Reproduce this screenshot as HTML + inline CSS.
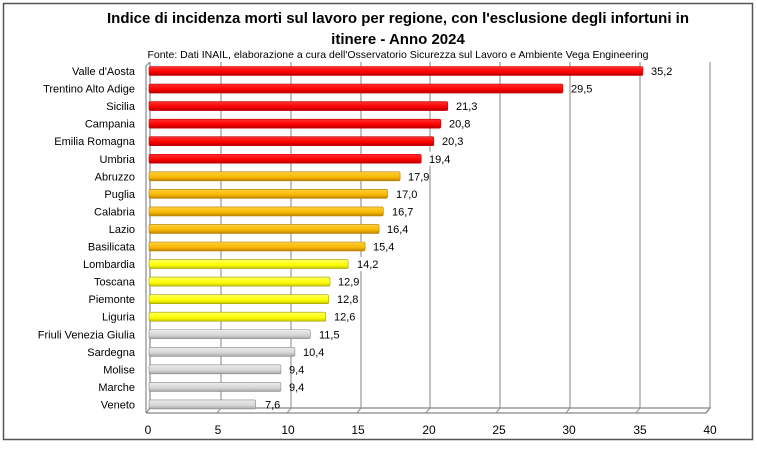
<!DOCTYPE html>
<html><head><meta charset="utf-8"><style>
body{margin:0;background:#fff;width:757px;height:444px;overflow:hidden;font-family:"Liberation Sans",sans-serif}
</style></head><body>
<svg width="757" height="444" xmlns="http://www.w3.org/2000/svg" font-family="Liberation Sans, sans-serif">
<defs>
<linearGradient id="r" x1="0" y1="0" x2="0" y2="1"><stop offset="0" stop-color="#ff3030"/><stop offset="0.6" stop-color="#ff0000"/><stop offset="1" stop-color="#b00000"/></linearGradient>
<linearGradient id="o" x1="0" y1="0" x2="0" y2="1"><stop offset="0" stop-color="#ffd040"/><stop offset="0.6" stop-color="#f8b800"/><stop offset="1" stop-color="#c08000"/></linearGradient>
<linearGradient id="y" x1="0" y1="0" x2="0" y2="1"><stop offset="0" stop-color="#ffff60"/><stop offset="0.6" stop-color="#ffff00"/><stop offset="1" stop-color="#c8c800"/></linearGradient>
<linearGradient id="g" x1="0" y1="0" x2="0" y2="1"><stop offset="0" stop-color="#ececec"/><stop offset="0.6" stop-color="#d6d6d6"/><stop offset="1" stop-color="#a8a8a8"/></linearGradient>
</defs>
<rect x="3.5" y="3.5" width="749" height="436" fill="#fff" stroke="#555" stroke-width="1.5"/>
<text x="398" y="23" text-anchor="middle" font-size="15" font-weight="bold">Indice di incidenza morti sul lavoro per regione, con l'esclusione degli infortuni in</text>
<text x="398" y="44" text-anchor="middle" font-size="15" font-weight="bold">itinere - Anno 2024</text>
<text x="398" y="58" text-anchor="middle" font-size="10.5">Fonte: Dati INAIL, elaborazione a cura dell'Osservatorio Sicurezza sul Lavoro e Ambiente Vega Engineering</text>
<g stroke="#999" stroke-width="1.2">
<line x1="221" y1="62" x2="221" y2="408"/><line x1="291" y1="62" x2="291" y2="408"/><line x1="361" y1="62" x2="361" y2="408"/><line x1="430" y1="62" x2="430" y2="408"/><line x1="500" y1="62" x2="500" y2="408"/><line x1="570" y1="62" x2="570" y2="408"/><line x1="640" y1="62" x2="640" y2="408"/><line x1="710" y1="62" x2="710" y2="408"/>
<line x1="221" y1="408" x2="217" y2="413"/><line x1="291" y1="408" x2="287" y2="413"/><line x1="361" y1="408" x2="357" y2="413"/><line x1="430" y1="408" x2="426" y2="413"/><line x1="500" y1="408" x2="496" y2="413"/><line x1="570" y1="408" x2="566" y2="413"/><line x1="640" y1="408" x2="636" y2="413"/><line x1="710" y1="408" x2="706" y2="413"/>
</g>
<g stroke="#888" stroke-width="1.2" fill="none">
<path d="M150 62 V408 L146 413"/>
<path d="M150 62 L146 66 V413"/>
<path d="M150 408 H710 L706 413 H146"/>
</g>
<g font-size="12" text-anchor="middle">
<text x="148" y="434">0</text><text x="218" y="434">5</text><text x="288" y="434">10</text><text x="358" y="434">15</text><text x="429" y="434">20</text><text x="499" y="434">25</text><text x="569" y="434">30</text><text x="640" y="434">35</text><text x="710" y="434">40</text>
</g>
<g font-size="11">
<g transform="translate(0,71)"><rect x="149" y="-4.5" width="493.9" height="9" rx="1.5" fill="url(#r)" stroke="#c00" stroke-width="0.6"/><text x="135" y="4" text-anchor="end">Valle d'Aosta</text><text x="651" y="4">35,2</text></g>
<g transform="translate(0,88.55)"><rect x="149" y="-4.5" width="413.9" height="9" rx="1.5" fill="url(#r)" stroke="#c00" stroke-width="0.6"/><text x="135" y="4" text-anchor="end">Trentino Alto Adige</text><text x="571" y="4">29,5</text></g>
<g transform="translate(0,106.1)"><rect x="149" y="-4.5" width="298.8" height="9" rx="1.5" fill="url(#r)" stroke="#c00" stroke-width="0.6"/><text x="135" y="4" text-anchor="end">Sicilia</text><rect x="452" y="-7" width="26" height="14" fill="#fff"/><text x="456" y="4">21,3</text></g>
<g transform="translate(0,123.65)"><rect x="149" y="-4.5" width="291.8" height="9" rx="1.5" fill="url(#r)" stroke="#c00" stroke-width="0.6"/><text x="135" y="4" text-anchor="end">Campania</text><text x="449" y="4">20,8</text></g>
<g transform="translate(0,141.2)"><rect x="149" y="-4.5" width="284.8" height="9" rx="1.5" fill="url(#r)" stroke="#c00" stroke-width="0.6"/><text x="135" y="4" text-anchor="end">Emilia Romagna</text><rect x="437" y="-7" width="26" height="14" fill="#fff"/><text x="442" y="4">20,3</text></g>
<g transform="translate(0,158.75)"><rect x="149" y="-4.5" width="272.2" height="9" rx="1.5" fill="url(#r)" stroke="#c00" stroke-width="0.6"/><text x="135" y="4" text-anchor="end">Umbria</text><rect x="425" y="-7" width="26" height="14" fill="#fff"/><text x="429" y="4">19,4</text></g>
<g transform="translate(0,176.3)"><rect x="149" y="-4.5" width="251.1" height="9" rx="1.5" fill="url(#o)" stroke="#b08000" stroke-width="0.6"/><text x="135" y="4" text-anchor="end">Abruzzo</text><text x="408" y="4">17,9</text></g>
<g transform="translate(0,193.85)"><rect x="149" y="-4.5" width="238.5" height="9" rx="1.5" fill="url(#o)" stroke="#b08000" stroke-width="0.6"/><text x="135" y="4" text-anchor="end">Puglia</text><text x="396" y="4">17,0</text></g>
<g transform="translate(0,211.4)"><rect x="149" y="-4.5" width="234.3" height="9" rx="1.5" fill="url(#o)" stroke="#b08000" stroke-width="0.6"/><text x="135" y="4" text-anchor="end">Calabria</text><text x="392" y="4">16,7</text></g>
<g transform="translate(0,228.95)"><rect x="149" y="-4.5" width="230.1" height="9" rx="1.5" fill="url(#o)" stroke="#b08000" stroke-width="0.6"/><text x="135" y="4" text-anchor="end">Lazio</text><text x="387" y="4">16,4</text></g>
<g transform="translate(0,246.5)"><rect x="149" y="-4.5" width="216.1" height="9" rx="1.5" fill="url(#o)" stroke="#b08000" stroke-width="0.6"/><text x="135" y="4" text-anchor="end">Basilicata</text><text x="373" y="4">15,4</text></g>
<g transform="translate(0,264.05)"><rect x="149" y="-4.5" width="199.2" height="9" rx="1.5" fill="url(#y)" stroke="#a0a000" stroke-width="0.6"/><text x="135" y="4" text-anchor="end">Lombardia</text><rect x="352" y="-7" width="26" height="14" fill="#fff"/><text x="357" y="4">14,2</text></g>
<g transform="translate(0,281.6)"><rect x="149" y="-4.5" width="181" height="9" rx="1.5" fill="url(#y)" stroke="#a0a000" stroke-width="0.6"/><text x="135" y="4" text-anchor="end">Toscana</text><rect x="334" y="-7" width="26" height="14" fill="#fff"/><text x="338" y="4">12,9</text></g>
<g transform="translate(0,299.15)"><rect x="149" y="-4.5" width="179.6" height="9" rx="1.5" fill="url(#y)" stroke="#a0a000" stroke-width="0.6"/><text x="135" y="4" text-anchor="end">Piemonte</text><rect x="332" y="-7" width="26" height="14" fill="#fff"/><text x="337" y="4">12,8</text></g>
<g transform="translate(0,316.7)"><rect x="149" y="-4.5" width="176.8" height="9" rx="1.5" fill="url(#y)" stroke="#a0a000" stroke-width="0.6"/><text x="135" y="4" text-anchor="end">Liguria</text><rect x="330" y="-7" width="26" height="14" fill="#fff"/><text x="334" y="4">12,6</text></g>
<g transform="translate(0,334.25)"><rect x="149" y="-4.5" width="161.3" height="9" rx="1.5" fill="url(#g)" stroke="#888" stroke-width="0.6"/><text x="135" y="4" text-anchor="end">Friuli Venezia Giulia</text><text x="319" y="4">11,5</text></g>
<g transform="translate(0,351.8)"><rect x="149" y="-4.5" width="145.9" height="9" rx="1.5" fill="url(#g)" stroke="#888" stroke-width="0.6"/><text x="135" y="4" text-anchor="end">Sardegna</text><text x="303" y="4">10,4</text></g>
<g transform="translate(0,369.35)"><rect x="149" y="-4.5" width="131.9" height="9" rx="1.5" fill="url(#g)" stroke="#888" stroke-width="0.6"/><text x="135" y="4" text-anchor="end">Molise</text><text x="289" y="4">9,4</text></g>
<g transform="translate(0,386.9)"><rect x="149" y="-4.5" width="131.9" height="9" rx="1.5" fill="url(#g)" stroke="#888" stroke-width="0.6"/><text x="135" y="4" text-anchor="end">Marche</text><text x="289" y="4">9,4</text></g>
<g transform="translate(0,404.45)"><rect x="149" y="-4.5" width="106.6" height="9" rx="1.5" fill="url(#g)" stroke="#888" stroke-width="0.6"/><text x="135" y="4" text-anchor="end">Veneto</text><text x="265" y="4">7,6</text></g>
</g>
</svg>
</body></html>
